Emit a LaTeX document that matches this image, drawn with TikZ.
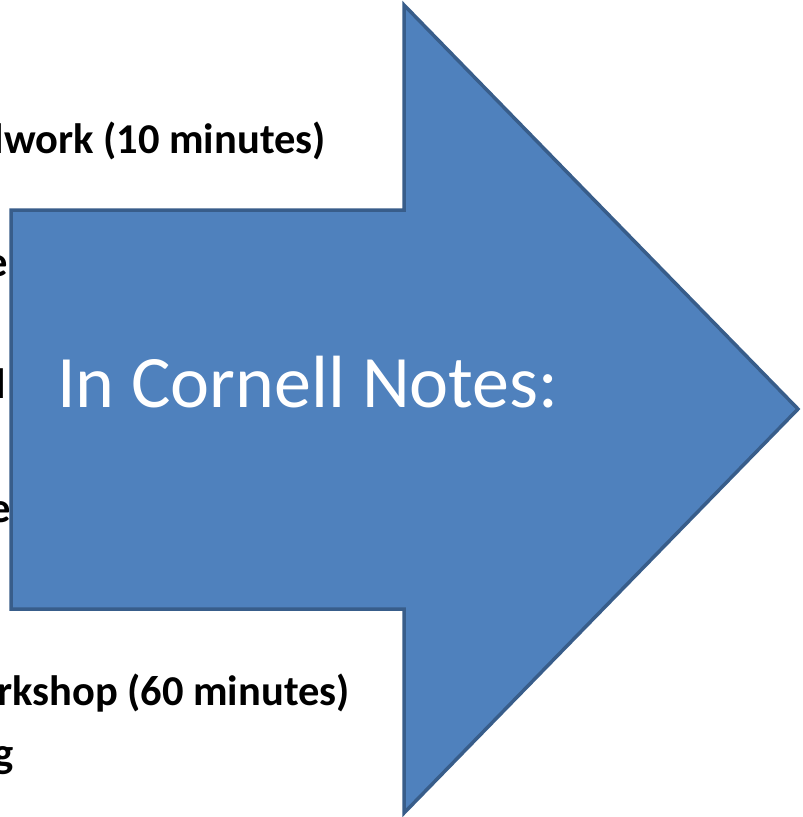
\documentclass[tikz,border=0pt]{standalone}
\usepackage{fontspec}
\setmainfont{Carlito}
\definecolor{arrowfill}{HTML}{4F81BD}
\definecolor{arrowline}{HTML}{385D8A}
\tikzset{
  bgtext/.style={font=\fontsize{42.5}{50}\selectfont\bfseries, text=black, inner sep=0pt, anchor=base east},
  bigarrow/.style={fill=arrowfill, draw=arrowline, line width=3.5pt, line join=miter},
  arrowlabel/.style={font=\fontsize{74}{88}\selectfont, text=white, inner sep=0pt, anchor=base west}
}
\begin{document}
\begin{tikzpicture}[x=1pt,y=-1pt]
\useasboundingbox[fill=white] (0,0) rectangle (803,817);
\node[bgtext] (t1) at (326,153) {lwork (10 minutes)};
\node[bgtext] (t2) at (8,276) {e};
\node[bgtext] (t3) at (6,398) {l};
\node[bgtext] (t4) at (11,522) {e};
\node[bgtext] (t5) at (350,705) {rkshop (60 minutes)};
\node[bgtext] (t6) at (14,767) {g};
\draw[bigarrow] (11,210) -- (404,210) -- (404,5) -- (798,409) -- (404,813) -- (404,609) -- (11,609) -- cycle;
\node[arrowlabel] (lbl) at (57,407) {In Cornell Notes:};
\end{tikzpicture}
\end{document}
